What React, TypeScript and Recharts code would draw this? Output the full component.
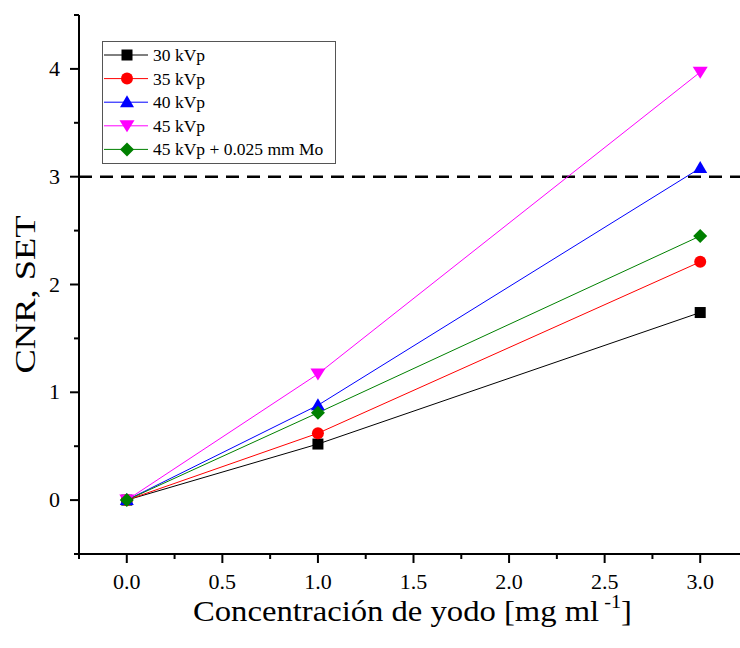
import React from "react";
import {
    LineChart,
    Line,
    XAxis,
    YAxis,
    ReferenceLine,
    Label,
} from "recharts";

// concentration (mg/ml) and CNR per tube setting
const conc = [0, 1, 3];
const cnr30 = [0, 0.52, 1.74];
const cnr35 = [0, 0.62, 2.21];
const cnr40 = [0, 0.88, 3.08];
const cnr45 = [0, 1.17, 3.97];
const cnr45Mo = [0, 0.81, 2.45];

const threshold = 3;

const xTicks = [-0.25, 0, 0.25, 0.5, 0.75, 1, 1.25, 1.5, 1.75, 2, 2.25, 2.5, 2.75, 3, 3.25];
const yTicks = [-0.5, 0, 0.5, 1, 1.5, 2, 2.5, 3, 3.5, 4, 4.5];

const series = [
    { key: "s30", name: "30 kVp", color: "#000000", shape: "square", values: cnr30 },
    { key: "s35", name: "35 kVp", color: "#ff0000", shape: "circle", values: cnr35 },
    { key: "s40", name: "40 kVp", color: "#0000ff", shape: "up", values: cnr40 },
    { key: "s45", name: "45 kVp", color: "#ff00ff", shape: "down", values: cnr45 },
    { key: "s45mo", name: "45 kVp + 0.025 mm Mo", color: "#008000", shape: "diamond", values: cnr45Mo },
];

const data = conc.map((c, i) => {
    const row: Record<string, number> = { conc: c };
    series.forEach((s) => (row[s.key] = s.values[i]));
    return row;
});

const FONT = "'Liberation Serif', 'Times New Roman', serif";

function Marker({ cx, cy, shape, color }: any) {
    if (cx == null || cy == null) return null;
    if (shape === "square")
        return <rect x={cx - 5.5} y={cy - 5.5} width={11} height={11} fill={color} />;
    if (shape === "circle") return <circle cx={cx} cy={cy} r={6} fill={color} />;
    if (shape === "up")
        return <polygon points={`${cx},${cy - 7} ${cx + 7},${cy + 5} ${cx - 7},${cy + 5}`} fill={color} />;
    if (shape === "down")
        return <polygon points={`${cx - 7.5},${cy - 5.5} ${cx + 7.5},${cy - 5.5} ${cx},${cy + 6.5}`} fill={color} />;
    return <polygon points={`${cx},${cy - 7} ${cx + 7},${cy} ${cx},${cy + 7} ${cx - 7},${cy}`} fill={color} />;
}

// ticks drawn by hand so minor ticks can be shorter
function AxisTick({ x, y, payload, side }: any) {
    const v = payload.value;
    const vertical = side === "left" || side === "right";
    const major = vertical
        ? Math.abs(v - Math.round(v)) < 1e-6
        : Math.abs(v * 2 - Math.round(v * 2)) < 1e-6;
    const len = major ? 9 : 5;
    const st = { stroke: "#000", strokeWidth: 2 };
    if (side === "bottom") {
        const showLabel = major && v >= 0 && v <= 3;
        return (
            <g>
                <line x1={x} y1={y} x2={x} y2={y + len} {...st} />
                {showLabel && (
                    <text x={x} y={y + 35} textAnchor="middle" fontFamily={FONT} fontSize={22} fill="#000">
                        {v.toFixed(1)}
                    </text>
                )}
            </g>
        );
    }
    if (side === "top") return <line x1={x} y1={y} x2={x} y2={y + len} {...st} />;
    if (side === "right") return <line x1={x - len} y1={y} x2={x} y2={y} {...st} />;
    const showLabel = major && v >= 0 && v <= 4;
    return (
        <g>
            <line x1={x - len} y1={y} x2={x} y2={y} {...st} />
            {showLabel && (
                <text x={x - 19} y={y + 7} textAnchor="end" fontFamily={FONT} fontSize={22} fill="#000">
                    {v}
                </text>
            )}
        </g>
    );
}

function LegendBox() {
    const rowH = 23.6;
    return (
        <svg width={234} height={123} style={{ position: "absolute", left: 102, top: 41 }}>
            <rect x={0.5} y={0.5} width={233} height={122} fill="#fff" stroke="#555" strokeWidth={1} />
            {series.map((s, i) => {
                const cy = 14 + i * rowH;
                return (
                    <g key={s.key}>
                        <line x1={2} y1={cy} x2={46} y2={cy} stroke={s.color} strokeWidth={1} />
                        <Marker cx={25} cy={cy} shape={s.shape} color={s.color} />
                        <text x={51} y={cy + 6} fontFamily={FONT} fontSize={17.5} fill="#000">
                            {s.name}
                        </text>
                    </g>
                );
            })}
        </svg>
    );
}

export default function App() {
    const axisLine = { stroke: "#000", strokeWidth: 2 };
    return (
        <div style={{ position: "absolute", left: 0, top: 0, width: 740, height: 648, overflow: "hidden", background: "#fff" }}>
            <LineChart width={760} height={648} data={data} margin={{ top: 15, right: 12, bottom: 14, left: 0 }}>
                <XAxis
                    xAxisId="b"
                    dataKey="conc"
                    type="number"
                    domain={[-0.25, 3.25]}
                    ticks={xTicks}
                    interval={0}
                    height={80}
                    tickSize={0}
                    tickMargin={0}
                    tickLine={false}
                    axisLine={axisLine}
                    tick={(p: any) => <AxisTick {...p} side="bottom" />}
                    allowDataOverflow
                >
                    <Label
                        content={({ viewBox }: any) => (
                            <text
                                x={viewBox.x + viewBox.width / 2 - 1}
                                y={viewBox.y + 67}
                                textAnchor="middle"
                                fontFamily={FONT}
                                fontSize={29}
                                fill="#000"
                                textLength={439}
                                lengthAdjust="spacingAndGlyphs"
                            >
                                Concentración de yodo [mg ml
                                <tspan fontSize={18} dy={-13}> -1</tspan>
                                <tspan dy={13}>]</tspan>
                            </text>
                        )}
                    />
                </XAxis>
                <XAxis
                    xAxisId="t"
                    orientation="top"
                    type="number"
                    domain={[-0.25, 3.25]}
                    ticks={xTicks}
                    interval={0}
                    height={0}
                    tickSize={0}
                    tickMargin={0}
                    tickLine={false}
                    axisLine={axisLine}
                    tick={(p: any) => <AxisTick {...p} side="top" />}
                />
                <YAxis
                    yAxisId="l"
                    type="number"
                    domain={[-0.5, 4.5]}
                    ticks={yTicks}
                    interval={0}
                    width={79}
                    tickSize={0}
                    tickMargin={0}
                    tickLine={false}
                    axisLine={axisLine}
                    tick={(p: any) => <AxisTick {...p} side="left" />}
                    allowDataOverflow
                >
                    <Label
                        content={({ viewBox }: any) => {
                            const cx = viewBox.x + 35;
                            const cy = viewBox.y + viewBox.height / 2 + 10;
                            return (
                                <text
                                    x={cx}
                                    y={cy}
                                    transform={`rotate(-90 ${cx} ${cy})`}
                                    textAnchor="middle"
                                    fontFamily={FONT}
                                    fontSize={30}
                                    fill="#000"
                                    textLength={158}
                                    lengthAdjust="spacingAndGlyphs"
                                >
                                    CNR, SET
                                </text>
                            );
                        }}
                    />
                </YAxis>
                <YAxis
                    yAxisId="r"
                    orientation="right"
                    type="number"
                    domain={[-0.5, 4.5]}
                    ticks={yTicks}
                    interval={0}
                    width={0}
                    tickSize={0}
                    tickMargin={0}
                    tickLine={false}
                    axisLine={axisLine}
                    tick={(p: any) => <AxisTick {...p} side="right" />}
                />
                <ReferenceLine
                    xAxisId="b"
                    yAxisId="l"
                    y={threshold}
                    stroke="#000"
                    strokeWidth={2.5}
                    strokeDasharray="13 8"
                />
                {series.map((s) => (
                    <Line
                        key={s.key}
                        xAxisId="b"
                        yAxisId="l"
                        type="linear"
                        dataKey={s.key}
                        name={s.name}
                        stroke={s.color}
                        strokeWidth={1}
                        dot={(p: any) => <Marker key={`${s.key}-${p.index}`} cx={p.cx} cy={p.cy} shape={s.shape} color={s.color} />}
                        activeDot={false}
                        isAnimationActive={false}
                    />
                ))}
            </LineChart>
            <LegendBox />
        </div>
    );
}
